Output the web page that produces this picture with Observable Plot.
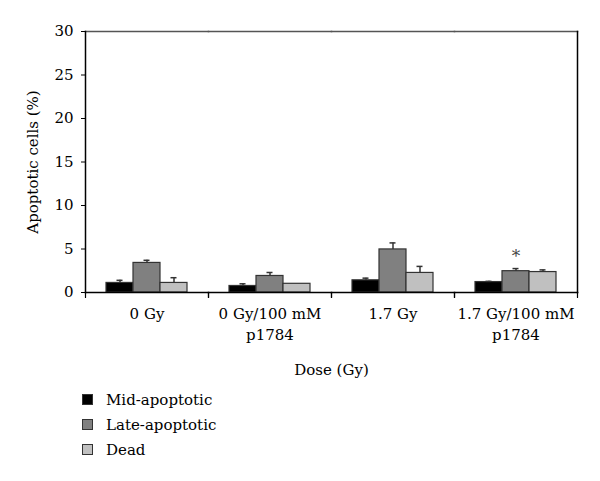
<!DOCTYPE html>
<html><head><meta charset="utf-8">
<script src="https://cdn.jsdelivr.net/npm/d3@7"></script>
<script src="https://cdn.jsdelivr.net/npm/@observablehq/plot@0.6"></script>
<style>
body{margin:0;background:#fff;font-family:"DejaVu Serif",serif;color:#000;}
#legend{margin-left:82px;margin-top:2px;font-size:15px;}
.item{height:25px;display:flex;align-items:center;}
.sw{width:9px;height:9px;border:1px solid #333;margin-right:13px;}
</style></head><body>
<div id="chart"></div><div id="legend"></div>
<script>
const groups = ["0 Gy", "0 Gy/100 mM\np1784", "1.7 Gy", "1.7 Gy/100 mM\np1784"];
const series = ["Mid-apoptotic", "Late-apoptotic", "Dead"];
const colors = ["#000000", "#808080", "#c0c0c0"];
const midVals = [1.1, 0.75, 1.4, 1.2];
const midErr = [0.3, 0.25, 0.25, 0.08];
const lateVals = [3.4, 1.9, 4.95, 2.45];
const lateErr = [0.3, 0.4, 0.75, 0.3];
const deadVals = [1.1, 1.0, 2.25, 2.35];
const deadErr = [0.6, 0.0, 0.75, 0.25];
const yTicks = [0, 5, 10, 15, 20, 25, 30];
const starred = [{group: groups[3], series: "Late-apoptotic"}];

const vals = [midVals, lateVals, deadVals];
const errs = [midErr, lateErr, deadErr];
const rows = [];
groups.forEach((g, gi) => series.forEach((s, si) => {
  rows.push({group: g, series: s, value: vals[si][gi], upper: vals[si][gi] + errs[si][gi]});
}));
const starRows = starred.map(d => rows.find(r => r.group === d.group && r.series === d.series));

const tickShape = {draw(context, l) { context.moveTo(0, 0); context.lineTo(0, -l); }};
const font = "DejaVu Serif, serif";

const plot = Plot.plot({
  width: 600, height: 385,
  marginLeft: 83, marginRight: 22, marginTop: 31, marginBottom: 93,
  style: {fontFamily: font, fontSize: "15px", color: "#000", background: "#fff"},
  fx: {domain: groups, padding: 0},
  x: {domain: series, paddingInner: 0, paddingOuter: 0.714, axis: null},
  y: {domain: [0, 30]},
  color: {domain: series, range: colors},
  marks: [
    Plot.barY(rows, {fx: "group", x: "series", y: "value", fill: "series", stroke: "#333", strokeWidth: 1.2}),
    Plot.ruleX(rows.filter(d => d.upper > d.value), {fx: "group", x: "series", y1: "value", y2: "upper", stroke: "#333", strokeWidth: 1.5}),
    Plot.tickY(rows.filter(d => d.upper > d.value), {fx: "group", x: "series", y: "upper", inset: 10.5, stroke: "#333", strokeWidth: 1.5}),
    Plot.text(starRows, {fx: "group", x: "series", y: "upper", text: () => "*", dy: -12, fontSize: 17, fill: "#444"}),
    Plot.frame({anchor: "bottom", stroke: "#000", strokeWidth: 1.5}),
    Plot.frame({anchor: "top", stroke: "#555", strokeWidth: 1.5}),
    Plot.frame({anchor: "left", facetAnchor: "left", stroke: "#000", strokeWidth: 1.5}),
    Plot.frame({anchor: "right", facetAnchor: "right", stroke: "#000", strokeWidth: 1.5}),
    Plot.vector([0], {frameAnchor: "bottom-left", anchor: "start", length: 5, rotate: 180, shape: tickShape, stroke: "#000", strokeWidth: 1.2}),
    Plot.vector([0], {frameAnchor: "bottom-right", anchor: "start", length: 5, rotate: 180, shape: tickShape, stroke: "#000", strokeWidth: 1.2}),
    Plot.axisY({ticks: yTicks, tickSize: 4, tickPadding: 8, fontSize: 15, label: "Apoptotic cells (%)", labelAnchor: "center", labelOffset: 58, labelArrow: "none"}),
    Plot.axisFx({anchor: "bottom", tickSize: 0, tickPadding: 12, fontSize: 15, lineHeight: 1.4, label: "Dose (Gy)", labelAnchor: "center", labelOffset: 82, labelArrow: "none"})
  ]
});
document.getElementById("chart").appendChild(plot);

const legend = d3.select("#legend");
series.forEach((s, i) => {
  const item = legend.append("div").attr("class", "item");
  item.append("div").attr("class", "sw").style("background", colors[i]);
  item.append("span").text(s);
});
</script>
</body></html>
